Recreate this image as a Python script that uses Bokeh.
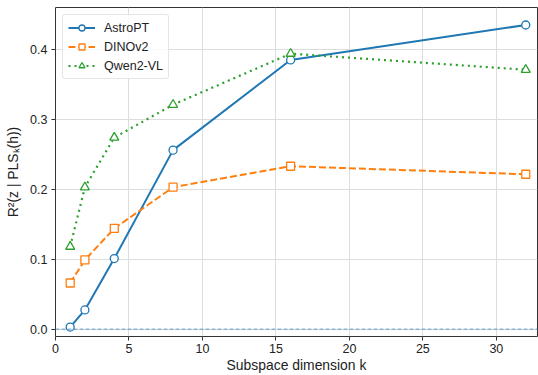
from bokeh.plotting import figure
from bokeh.models import Range1d, Legend, LegendItem, Span, FixedTicker, CustomJSTickFormatter
from bokeh.embed import file_html
from bokeh.resources import INLINE

k = [1, 2, 4, 8, 16, 32]
astropt = [0.003, 0.0275, 0.101, 0.256, 0.385, 0.435]
dinov2 = [0.066, 0.099, 0.144, 0.203, 0.233, 0.2215]
qwen = [0.118, 0.203, 0.274, 0.321, 0.394, 0.371]
x_ticks = [0, 5, 10, 15, 20, 25, 30]
y_ticks = [0.0, 0.1, 0.2, 0.3, 0.4]

FONT = "Liberation Sans"
blue, orange, green = "#1f77b4", "#ff7f0e", "#2ca02c"

p = figure(width=538, height=375, output_backend="svg", toolbar_location=None,
           x_range=Range1d(0, 32.8), y_range=Range1d(-0.0105, 0.46),
           min_border_left=55, min_border_right=1, min_border_top=7, min_border_bottom=38)

p.background_fill_color = "white"
p.border_fill_color = "white"
p.outline_line_color = "#333333"
p.outline_line_width = 1

for ax in (p.xaxis[0], p.yaxis[0]):
    ax.axis_line_color = None
    ax.major_tick_line_color = "#333333"
    ax.major_tick_out = 4
    ax.major_tick_in = 0
    ax.minor_tick_line_color = None
    ax.major_label_text_font = FONT
    ax.major_label_text_font_size = "12.5px"
    ax.major_label_text_color = "#222222"
    ax.axis_label_text_font = FONT
    ax.axis_label_text_font_size = "13.9px"
    ax.axis_label_text_font_style = "normal"
    ax.axis_label_text_color = "#222222"

p.xaxis.ticker = FixedTicker(ticks=x_ticks)
p.yaxis.ticker = FixedTicker(ticks=y_ticks)
p.yaxis.formatter = CustomJSTickFormatter(code="return tick.toFixed(1);")
p.xaxis.axis_label = "Subspace dimension k"
p.yaxis.axis_label = "R²(z | PLSₖ(h))"
p.xaxis.axis_label_standoff = 1
p.yaxis.axis_label_standoff = 6
p.xaxis.major_label_standoff = 3
p.yaxis.major_label_standoff = 4

p.xgrid.grid_line_color = "#dddddd"
p.ygrid.grid_line_color = "#dddddd"
p.xgrid.grid_line_width = 1
p.ygrid.grid_line_width = 1

zero = Span(location=0, dimension="width", line_color=blue, line_alpha=0.7,
            line_width=1, line_dash="4 2")
p.add_layout(zero)

l1 = p.line(k, astropt, line_color=blue, line_width=2)
m1 = p.scatter(k, astropt, marker="circle", size=8, fill_color="white",
               line_color=blue, line_width=1.3)
l2 = p.line(k, dinov2, line_color=orange, line_width=2, line_dash="7 3")
m2 = p.scatter(k, dinov2, marker="square", size=8, fill_color="white",
               line_color=orange, line_width=1.3)
l3 = p.line(k, qwen, line_color=green, line_width=2.2, line_dash="2 4")
m3 = p.scatter(k, qwen, marker="triangle", size=9, fill_color="white",
               line_color=green, line_width=1.3)

legend = Legend(items=[LegendItem(label="AstroPT", renderers=[l1, m1]),
                       LegendItem(label="DINOv2", renderers=[l2, m2]),
                       LegendItem(label="Qwen2-VL", renderers=[l3, m3])],
                location="top_left")
legend.label_text_font = FONT
legend.label_text_font_size = "12.5px"
legend.label_text_color = "#222222"
legend.glyph_width = 27
legend.glyph_height = 15
legend.spacing = 4
legend.padding = 5
legend.margin = 7
legend.label_standoff = 9
legend.border_line_color = "#cccccc"
legend.border_line_width = 1
legend.border_radius = 3
legend.background_fill_alpha = 0.85
p.add_layout(legend)

open("out.html", "w").write(file_html(p, INLINE))
